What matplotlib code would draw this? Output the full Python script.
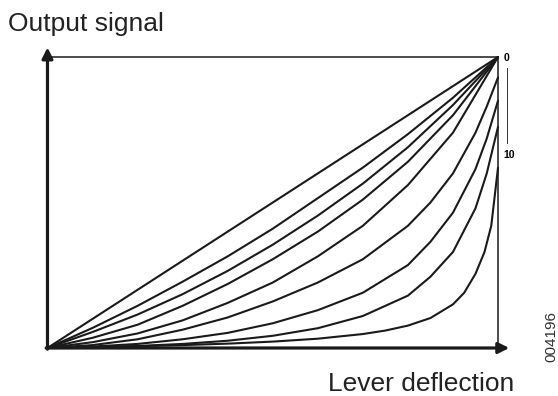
import matplotlib.pyplot as plt

plt.rcParams['font.family'] = ['Liberation Sans', 'DejaVu Sans']

# lever deflection (fraction of full travel) at which the curves were read
x_lin = [0.0, 1.0]
x_std = [0.0, 0.1, 0.2, 0.3, 0.4, 0.5, 0.6, 0.7, 0.8, 0.9, 1.0]
x_end = [0.0, 0.1, 0.2, 0.3, 0.4, 0.5, 0.6, 0.7, 0.8, 0.85, 0.9, 0.95, 0.975, 1.0]
x_knee = [0.0, 0.1, 0.2, 0.3, 0.4, 0.5, 0.6, 0.7, 0.75, 0.8, 0.85, 0.9, 0.925,
          0.95, 0.97, 0.985, 1.0]

# output signal (fraction of full scale), characteristic 0 (linear) ... 10
c1 = [0.0, 1.0]
c2 = [0.0, 0.069, 0.145, 0.228, 0.315, 0.41, 0.515, 0.62, 0.735, 0.86, 1.0]
c3 = [0.0, 0.055, 0.115, 0.185, 0.265, 0.355, 0.455, 0.565, 0.69, 0.835, 1.0]
c4 = [0.0, 0.035, 0.08, 0.145, 0.22, 0.305, 0.40, 0.51, 0.64, 0.80, 1.0]
c5 = [0.0, 0.02, 0.05, 0.095, 0.155, 0.225, 0.315, 0.42, 0.56, 0.74, 1.0]
c6 = [0.0, 0.01, 0.03, 0.063, 0.105, 0.16, 0.225, 0.305, 0.42, 0.5, 0.6, 0.74,
      0.83, 0.93]
c7 = [0.0, 0.005, 0.014, 0.03, 0.052, 0.085, 0.13, 0.19, 0.285, 0.365, 0.465,
      0.615, 0.72, 0.85]
c8 = [0.0, 0.003, 0.007, 0.014, 0.025, 0.042, 0.068, 0.11, 0.18, 0.245, 0.33,
      0.48, 0.6, 0.76]
c9 = [0.0, 0.003, 0.006, 0.01, 0.015, 0.022, 0.032, 0.048, 0.06, 0.077, 0.103,
      0.15, 0.19, 0.255, 0.33, 0.42, 0.62]

curves = [(x_lin, c1), (x_std, c2), (x_std, c3), (x_std, c4), (x_std, c5),
          (x_end, c6), (x_end, c7), (x_end, c8), (x_knee, c9)]

fig = plt.figure(figsize=(5.58, 3.96), dpi=100)
ax = fig.add_axes([0.0851, 0.1212, 0.8074, 0.7348])
ax.set_xlim(0, 1)
ax.set_ylim(0, 1)

for xs, ys in curves:
    ax.plot(xs, ys, color='#1a1a1a', lw=1.5, clip_on=False,
            solid_joinstyle='round', solid_capstyle='round')

ax.set_xticks([])
ax.set_yticks([])
ax.spines['left'].set_visible(False)
ax.spines['bottom'].set_visible(False)
for s in ['top', 'right']:
    ax.spines[s].set_linewidth(1.1)
    ax.spines[s].set_color('#1a1a1a')

# axes with arrow heads
arrow = dict(arrowstyle='-|>', lw=2.3, color='#1a1a1a', mutation_scale=16,
             shrinkA=0, shrinkB=0)
ax.annotate('', xy=(0, 1.033), xytext=(0, -0.004), arrowprops=arrow,
            annotation_clip=False)
ax.annotate('', xy=(1.025, 0), xytext=(-0.003, 0), arrowprops=arrow,
            annotation_clip=False)

# range marker on the right
ax.text(1.012, 0.997, '0', fontsize=7.5, fontweight='bold', ha='left', va='center')
ax.text(1.012, 0.663, '10', fontsize=7.5, fontweight='bold', ha='left', va='center')
ax.plot([1.021, 1.021], [0.962, 0.704], color='#333333', lw=0.7, clip_on=False)

fig.text(0.0143, 0.9217, 'Output signal', fontsize=19, color='#222222',
         ha='left', va='baseline')
fig.text(0.921, 0.0134, 'Lever deflection', fontsize=19, color='#222222',
         ha='right', va='baseline')
fig.text(0.989, 0.1515, '004196', fontsize=11, color='#333333',
         rotation=90, ha='center', va='center')

plt.savefig('out.png', dpi=100)
